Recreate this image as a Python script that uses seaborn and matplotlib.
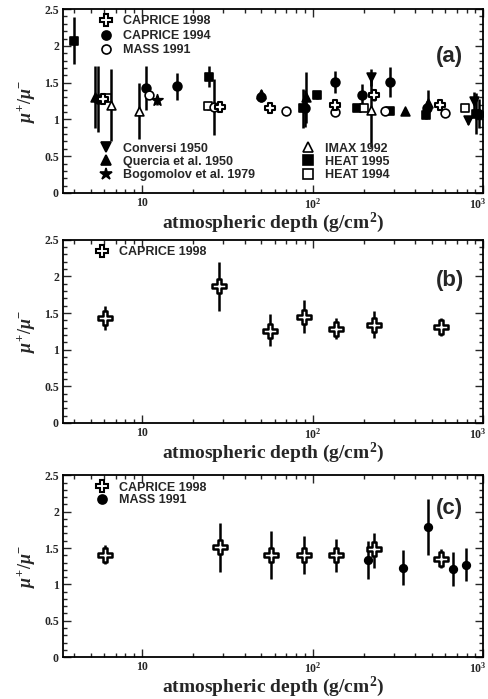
import matplotlib
matplotlib.use("Agg")
import matplotlib.pyplot as plt
from matplotlib.lines import Line2D
from matplotlib.ticker import MultipleLocator, LogLocator, NullFormatter
from matplotlib.transforms import ScaledTranslation
import seaborn as sns

# ---------------- panel (a): compilation of measurements ----------------
cap98_a_x = [5.9, 28.5, 56, 135, 229, 560]
cap98_a_y = [1.28, 1.17, 1.15, 1.19, 1.33, 1.20]
cap98_a_e = [0.05, 0.05, 0.05, 0.05, 0.08, 0.06]

cap94_x = [5.5, 10.5, 16, 50, 90, 135, 196, 285, 470, 950]
cap94_y = [1.28, 1.43, 1.45, 1.31, 1.15, 1.51, 1.33, 1.51, 1.15, 1.08]
cap94_e = [0.45, 0.30, 0.18, 0.08, 0.25, 0.15, 0.15, 0.20, 0.10, 0.20]

mass_a_x = [11, 26.5, 70, 135, 265, 600]
mass_a_y = [1.33, 1.17, 1.11, 1.10, 1.11, 1.09]
mass_a_e = [0.05, 0.38, 0.04, 0.04, 0.04, 0.05]

conv_x = [221, 820, 890]
conv_y = [1.57, 0.99, 1.25]
conv_e = [0.12, 0.05, 0.12]

querc_x = [5.3, 50, 92, 347, 474]
querc_y = [1.30, 1.35, 1.30, 1.11, 1.22]
querc_e = [0.42, 0.05, 0.35, 0.02, 0.18]

bogo_x = [12.3]
bogo_y = [1.26]
bogo_e = [0.06]

imax_x = [6.6, 9.6, 219]
imax_y = [1.19, 1.11, 1.13]
imax_e = [0.49, 0.38, 0.50]

heat95_x = [4.0, 24.8, 88, 106, 183, 285, 463, 910]
heat95_y = [2.07, 1.58, 1.15, 1.33, 1.16, 1.11, 1.06, 1.08]
heat95_e = [0.32, 0.14, 0.27, 0.05, 0.03, 0.03, 0.06, 0.28]

heat94_x = [6.2, 24.5, 200, 780]
heat94_y = [1.29, 1.18, 1.15, 1.16]
heat94_e = [0.05, 0.05, 0.04, 0.05]

# ---------------- panel (b) ----------------
cap98_b_x = [6.05, 28.4, 56.6, 89.7, 138, 229, 566]
cap98_b_y = [1.43, 1.87, 1.26, 1.45, 1.28, 1.34, 1.31]
cap98_b_lo = [0.16, 0.34, 0.21, 0.22, 0.14, 0.18, 0.12]
cap98_b_hi = [0.16, 0.33, 0.23, 0.23, 0.15, 0.19, 0.12]

# ---------------- panel (c) ----------------
cap98_c_x = [6.05, 28.8, 57.4, 89.7, 138, 228, 566]
cap98_c_y = [1.41, 1.52, 1.40, 1.40, 1.40, 1.48, 1.35]
cap98_c_lo = [0.13, 0.35, 0.32, 0.26, 0.23, 0.25, 0.13]
cap98_c_hi = [0.13, 0.33, 0.34, 0.26, 0.23, 0.22, 0.14]

mass_c_x = [210, 339, 474, 665, 794]
mass_c_y = [1.33, 1.23, 1.79, 1.21, 1.27]
mass_c_e = [0.26, 0.24, 0.38, 0.23, 0.23]

sns.set_theme(style="ticks")
plt.rcParams["font.family"] = ["Liberation Serif", "DejaVu Serif"]
plt.rcParams["font.weight"] = "bold"
plt.rcParams["mathtext.fontset"] = "custom"
plt.rcParams["mathtext.rm"] = "Liberation Serif:bold"
plt.rcParams["mathtext.it"] = "Liberation Serif:italic:bold"
plt.rcParams["mathtext.bf"] = "Liberation Serif:bold"

LEG_FONT = {"family": "Liberation Sans", "weight": "bold", "size": 9}


def draw(ax, x, y, err, marker, filled, s, lw=1.2):
    ax.errorbar(x, y, yerr=err, fmt="none", ecolor="black", elinewidth=1.8,
                capsize=0, zorder=2)
    sns.scatterplot(x=x, y=y, ax=ax, marker=marker, s=s,
                    color="black" if filled else "white", edgecolor="black",
                    linewidth=lw, zorder=3, legend=False)


def handle(marker, filled, ms, lw=1.2):
    return Line2D([], [], linestyle="none", marker=marker, markersize=ms,
                  markerfacecolor="black" if filled else "white",
                  markeredgecolor="black", markeredgewidth=lw)


def style_axis(ax, tag, tag_y):
    ax.set_xscale("log")
    ax.set_xlim(3.45, 1000)
    ax.set_ylim(0, 2.5)
    ax.set_xticks([10, 100, 1000])
    ax.set_xticklabels(["10", r"$10^{2}$", r"$10^{3}$"])
    ax.xaxis.set_minor_locator(LogLocator(base=10, subs=range(2, 10)))
    ax.xaxis.set_minor_formatter(NullFormatter())
    ax.set_yticks([0, 0.5, 1, 1.5, 2, 2.5])
    ax.set_yticklabels(["0", "0.5", "1", "1.5", "2", "2.5"])
    ax.yaxis.set_minor_locator(MultipleLocator(0.1))
    ax.tick_params(which="both", direction="in", top=True, right=True,
                   labelsize=8.5, width=1.0, pad=3)
    ax.tick_params(which="major", length=6)
    ax.tick_params(which="minor", length=3)
    # keep the 10^3 label inside the canvas
    last = ax.get_xticklabels()[-1]
    last.set_transform(last.get_transform()
                       + ScaledTranslation(-5 / 100, 0, ax.figure.dpi_scale_trans))
    for sp in ax.spines.values():
        sp.set_linewidth(1.3)
        sp.set_color("black")
    ax.set_xlabel(r"atmospheric depth (g/cm$^{2}$)", fontsize=14,
                  fontweight="bold", labelpad=-1)
    ax.set_ylabel(r"$\mu^{+}/\mu^{-}$", fontsize=13, labelpad=5)
    ax.text(0.92, tag_y, tag, transform=ax.transAxes, ha="center",
            va="center", fontsize=16, fontweight="bold",
            family="Liberation Sans")


fig = plt.figure(figsize=(4.89, 6.99), dpi=100)
ax_a = fig.add_axes([0.129, 0.724, 0.859, 0.263])
ax_b = fig.add_axes([0.129, 0.395, 0.859, 0.262])
ax_c = fig.add_axes([0.129, 0.060, 0.859, 0.260])

# ---- (a)
sa = 40
draw(ax_a, heat95_x, heat95_y, heat95_e, "s", True, sa)
draw(ax_a, heat94_x, heat94_y, heat94_e, "s", False, sa)
draw(ax_a, imax_x, imax_y, imax_e, "^", False, sa)
draw(ax_a, querc_x, querc_y, querc_e, "^", True, sa)
draw(ax_a, conv_x, conv_y, conv_e, "v", True, sa)
draw(ax_a, bogo_x, bogo_y, bogo_e, "*", True, 70)
draw(ax_a, cap94_x, cap94_y, cap94_e, "o", True, sa)
draw(ax_a, mass_a_x, mass_a_y, mass_a_e, "o", False, sa)
draw(ax_a, cap98_a_x, cap98_a_y, cap98_a_e, "P", False, 55, lw=1.5)
style_axis(ax_a, "(a)", 0.74)

leg1 = ax_a.legend([handle("P", False, 8, 1.5), handle("o", True, 6.5),
                    handle("o", False, 6.5)],
                   ["CAPRICE 1998", "CAPRICE 1994", "MASS 1991"],
                   loc="upper left", bbox_to_anchor=(0.06, 1.02),
                   frameon=False, prop=LEG_FONT, handlelength=1.2,
                   handletextpad=0.8, labelspacing=0.2, borderpad=0.3)
ax_a.add_artist(leg1)
ax_a.legend([handle("v", True, 7), handle("^", True, 7), handle("*", True, 9),
             handle("^", False, 7), handle("s", True, 6.5), handle("s", False, 6.5)],
            ["Conversi 1950", "Quercia et al. 1950", "Bogomolov et al. 1979",
             "IMAX 1992", "HEAT 1995", "HEAT 1994"],
            ncol=2, loc="lower left", bbox_to_anchor=(0.06, 0.01),
            frameon=False, prop=LEG_FONT, handlelength=1.2,
            handletextpad=0.8, labelspacing=0.1, borderpad=0.3,
            columnspacing=3.6)

# ---- (b)
draw(ax_b, cap98_b_x, cap98_b_y, [cap98_b_lo, cap98_b_hi], "P", False, 100,
     lw=1.8)
style_axis(ax_b, "(b)", 0.78)
ax_b.legend([handle("P", False, 8, 1.5)], ["CAPRICE 1998"], loc="upper left",
            bbox_to_anchor=(0.05, 1.02), frameon=False, prop=LEG_FONT,
            handlelength=1.2, handletextpad=0.8, borderpad=0.3)

# ---- (c)
draw(ax_c, mass_c_x, mass_c_y, mass_c_e, "o", True, 30)
draw(ax_c, cap98_c_x, cap98_c_y, [cap98_c_lo, cap98_c_hi], "P", False, 100,
     lw=1.8)
style_axis(ax_c, "(c)", 0.82)
ax_c.legend([handle("P", False, 8, 1.5), handle("o", True, 6.5)],
            ["CAPRICE 1998", "MASS 1991"], loc="upper left",
            bbox_to_anchor=(0.05, 1.02), frameon=False, prop=LEG_FONT,
            handlelength=1.2, handletextpad=0.8, labelspacing=0.05,
            borderpad=0.3)

fig.savefig("out.png", dpi=100, facecolor="white")
